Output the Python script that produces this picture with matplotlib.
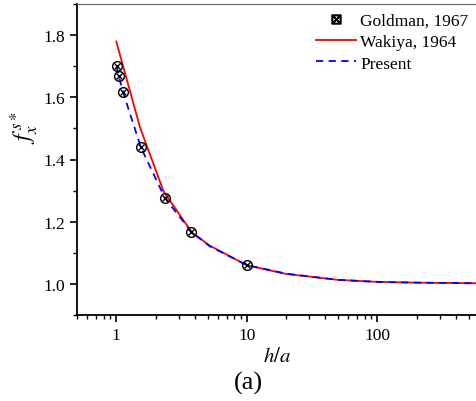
import numpy as np
import matplotlib.pyplot as plt
from matplotlib.ticker import MultipleLocator, LogLocator, NullFormatter, FixedLocator, FixedFormatter

plt.rcParams['font.family'] = ['Liberation Serif', 'DejaVu Serif']
plt.rcParams['mathtext.fontset'] = 'stix'

# dane
h_gold = [1.005, 1.045, 1.128, 1.543, 2.352, 3.762, 10.07]
f_gold = [1.700, 1.668, 1.616, 1.439, 1.277, 1.167, 1.060]

h_wak = [1.0, 1.52, 2.30, 3.78, 5.2, 10.0, 20.0, 50.0, 100.0, 200.0, 600.0]
f_wak = [1.779, 1.503, 1.298, 1.166, 1.123, 1.060, 1.032, 1.013, 1.0065, 1.004, 1.002]

h_pres = [1.005, 1.045, 1.128, 1.543, 2.352, 3.762, 5.2, 10.07, 20.0, 50.0, 100.0, 200.0, 600.0]
f_pres = [1.700, 1.668, 1.616, 1.439, 1.277, 1.167, 1.121, 1.060, 1.033, 1.013, 1.0065, 1.004, 1.002]

fig = plt.figure(figsize=(4.77, 4.02), dpi=100)
ax = fig.add_axes([77/477, (402-316)/402, 400/477, 311/402])

ax.plot(h_wak, f_wak, color='red', lw=1.3, label='Wakiya, 1964')
ax.plot(h_pres, f_pres, color='blue', lw=1.3, ls=(0, (4, 3)), label='Present')
ax.plot(h_gold, f_gold, ls='none', marker='o', ms=7, mfc='none', mec='black', mew=1.0)
ax.plot(h_gold, f_gold, ls='none', marker='x', ms=5, mec='black', mew=1.0)
# znacznik do legendy
gold, = ax.plot([], [], ls='none', marker=r'$\boxtimes$', ms=6.5, color='black', label='Goldman, 1967')

ax.set_xscale('log')
ax.set_xlim(0.5, 580)
ax.set_ylim(0.9, 1.9)
ax.xaxis.set_major_locator(FixedLocator([1, 10, 100]))
ax.xaxis.set_major_formatter(FixedFormatter(['1', '10', '100']))
ax.xaxis.set_minor_locator(LogLocator(base=10, subs=np.arange(2, 10)))
ax.xaxis.set_minor_formatter(NullFormatter())
ax.yaxis.set_major_locator(MultipleLocator(0.2))
ax.yaxis.set_minor_locator(MultipleLocator(0.1))
ax.yaxis.set_major_formatter(plt.FuncFormatter(lambda v, p: f'{v:.1f}'))

ax.tick_params(which='major', direction='out', length=5, width=1.2, labelsize=12.5)
ax.tick_params(which='minor', direction='out', length=3, width=1.0)
ax.spines['right'].set_visible(False)
ax.spines['top'].set_color('#666666')
ax.spines['left'].set_linewidth(1.3)
ax.spines['bottom'].set_linewidth(1.3)

ax.set_ylabel(r'$f_x^{\,s*}$', fontsize=17)
ax.yaxis.set_label_coords(-0.09, 0.605)
ax.set_xlabel(r'$h/a$', fontsize=15, labelpad=3)

handles = [gold, ax.lines[0], ax.lines[1]]
ax.legend(handles=handles, labels=[h.get_label() for h in handles], loc='upper right',
          frameon=False, fontsize=12.5, handlelength=2.3, handletextpad=0.25,
          labelspacing=0.3, borderaxespad=0.1)

fig.text(248/477, 1 - 383/402, '(a)', fontsize=19, ha='center', va='center')

plt.savefig('out.png', dpi=100)
plt.close()
